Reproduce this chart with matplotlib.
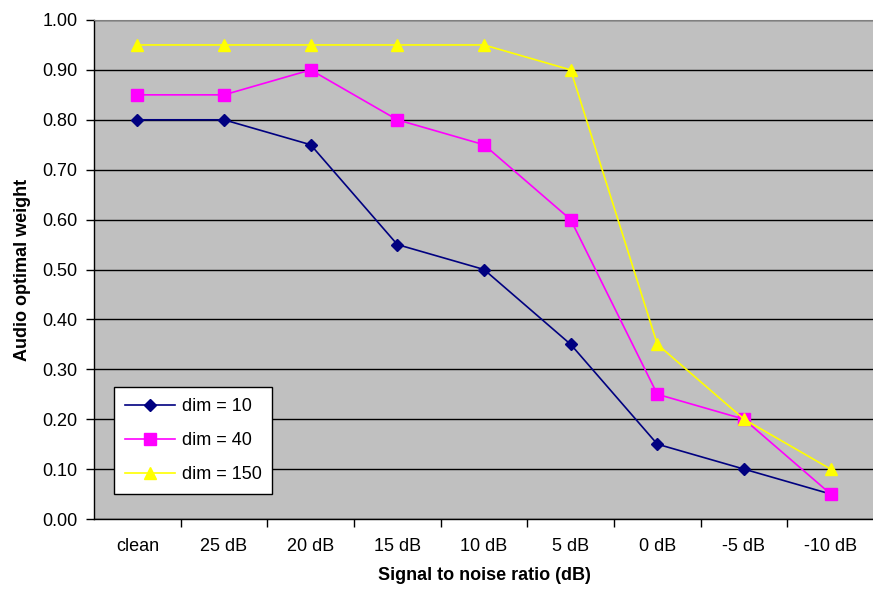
import matplotlib
matplotlib.use("Agg")
import matplotlib.pyplot as plt
import numpy as np

plt.rcParams['font.family'] = ['Liberation Sans', 'DejaVu Sans']

snr_labels = ["clean", "25 dB", "20 dB", "15 dB", "10 dB", "5 dB", "0 dB", "-5 dB", "-10 dB"]
dim10 = [0.80, 0.80, 0.75, 0.55, 0.50, 0.35, 0.15, 0.10, 0.05]
dim40 = [0.85, 0.85, 0.90, 0.80, 0.75, 0.60, 0.25, 0.20, 0.05]
dim150 = [0.95, 0.95, 0.95, 0.95, 0.95, 0.90, 0.35, 0.20, 0.10]

W, H = 873, 590
fig = plt.figure(figsize=(W / 100, H / 100), dpi=100)
ax = fig.add_axes([94 / W, 1 - 519 / H, 780 / W, 499 / H])
ax.set_facecolor('#C0C0C0')

x = np.arange(len(snr_labels))
ax.plot(x, dim10, color='#000080', marker='D', ms=6.5, lw=1.2, label='dim = 10', zorder=3)
ax.plot(x, dim40, color='#FF00FF', marker='s', ms=8, lw=1.2, label='dim = 40', zorder=4)
ax.plot(x, dim150, color='#FFFF00', marker='^', ms=8.5, lw=1.2, label='dim = 150', zorder=5)

ax.set_xlim(-0.5, len(snr_labels) - 0.5)
ax.set_ylim(0, 1.0)
ax.set_yticks(np.arange(0, 1.01, 0.1))
ax.set_yticklabels([f"{v:.2f}" for v in np.arange(0, 1.01, 0.1)])
ax.yaxis.grid(True, color='black', lw=1)
ax.set_axisbelow(True)

# category labels in the middle, tick marks at the boundaries
ax.set_xticks(x)
ax.set_xticklabels(snr_labels)
ax.tick_params(axis='x', which='major', length=0, pad=14, labelsize=13)
ax.set_xticks(np.arange(0.5, len(snr_labels) - 0.5, 1), minor=True)
ax.tick_params(axis='x', which='minor', length=6, width=1, direction='out')
ax.tick_params(axis='y', length=6, width=1, direction='out', labelsize=13, pad=6)

ax.spines['right'].set_visible(False)
ax.spines['top'].set_color('#808080')
ax.spines['left'].set_linewidth(1)
ax.spines['bottom'].set_linewidth(1)

ax.set_xlabel('Signal to noise ratio (dB)', fontsize=13, fontweight='bold', labelpad=8)
ax.set_ylabel('Audio optimal weight', fontsize=13, fontweight='bold', labelpad=8)

leg = ax.legend(loc='lower left', bbox_to_anchor=(20 / 780, 25 / 499), fontsize=13,
                frameon=True, fancybox=False, edgecolor='black', framealpha=1,
                borderpad=0.6, borderaxespad=0, handlelength=2.8, handletextpad=0.35,
                labelspacing=0.95)
leg.get_frame().set_linewidth(1)

fig.savefig('out.png', dpi=100)
